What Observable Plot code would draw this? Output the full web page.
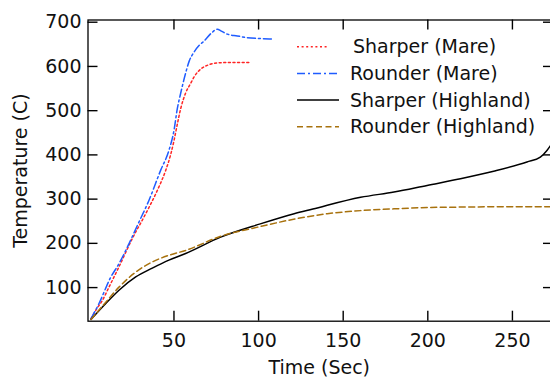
<!DOCTYPE html>
<html>
<head>
<meta charset="utf-8">
<script src="https://cdn.jsdelivr.net/npm/d3@7"></script>
<script src="https://cdn.jsdelivr.net/npm/@observablehq/plot@0.6"></script>
<style>
  html, body { margin: 0; padding: 0; background: #fff; }
  #chart { width: 550px; height: 377px; }
</style>
</head>
<body>
<div id="chart"></div>
<script>
// ---- data ----
const seriesNames = ["Sharper (Mare)", "Rounder (Mare)", "Sharper (Highland)", "Rounder (Highland)"];

const sharperMareTime = [1, 4, 7.7, 11.6, 17.5, 25.4, 33.3, 40.2, 45.1, 48, 50, 52, 54, 56.9, 59.9, 62, 65.8, 70, 75.6, 85, 95];
const sharperMareTemp = [30, 50, 71, 101, 147, 211, 267, 320, 365, 400, 432, 470, 505, 540, 562, 577, 594, 603, 608, 609, 609];

const rounderMareTime = [1, 5.7, 12.6, 17.5, 23.4, 29.3, 35.2, 42.1, 47, 50, 52, 54, 56.9, 59, 61.8, 65, 67.7, 72, 75.6, 78, 81.5, 87.4, 93.3, 101, 108];
const rounderMareTemp = [30, 64, 123, 154, 199, 248, 297, 365, 410, 455, 505, 540, 585, 612, 632, 648, 657, 675, 684, 680, 673, 669, 665, 663, 662];

const sharperHighTime = [1, 9.7, 17.5, 27.4, 37.2, 47, 56.9, 77.6, 101, 121, 134.7, 140.6, 160.3, 180, 199.6, 219.3, 238.9, 258.6, 266.5, 270.4, 272.5];
const sharperHighTemp = [28, 64, 94, 124, 144, 162, 177, 214, 244, 267, 280, 286, 304, 316, 331, 346, 363, 384, 395, 410, 421];

const rounderHighTime = [1, 9.7, 17.5, 27.4, 37.2, 47, 56.9, 77.6, 101, 120, 140.6, 160.3, 180, 199.6, 220, 250, 272.5];
const rounderHighTemp = [28, 67, 101, 135, 158, 173, 184, 216, 238, 254, 267, 274, 278, 281, 282, 283, 283];

const xTicks = [50, 100, 150, 200, 250];
const yTicks = [100, 200, 300, 400, 500, 600, 700];

// ---- styles ----
const styles = [
  {stroke: "#ff2424", dash: "2,2.6"},
  {stroke: "#1f5cff", dash: "8,3,2,3"},
  {stroke: "#000000", dash: null},
  {stroke: "#a8720e", dash: "6,3.5"}
];

const W = 550, H = 377, ML = 87.5, MR = 0, MT = 19.5, MB = 56.3;
const frameW = W - ML - MR, frameH = H - MT - MB;

const toRows = (ts, vs) => ts.map((t, i) => ({t, v: vs[i]}));
const series = [
  toRows(sharperMareTime, sharperMareTemp),
  toRows(rounderMareTime, rounderMareTemp),
  toRows(sharperHighTime, sharperHighTemp),
  toRows(rounderHighTime, rounderHighTemp)
];

const lineMarks = series.map((rows, i) =>
  Plot.line(rows, {
    x: "t", y: "v",
    stroke: styles[i].stroke,
    strokeWidth: 1.5,
    strokeDasharray: styles[i].dash,
    curve: "monotone-x",
    clip: true
  })
);

function legend() {
  const g = d3.create("svg:g").attr("text-anchor", "start");
  const x0 = 297, x1 = 339, tx = 350, y0 = 46.7, step = 26.7;
  seriesNames.forEach((name, i) => {
    const y = y0 + i * step;
    g.append("line")
      .attr("x1", x0).attr("x2", i === 0 ? 327 : x1)
      .attr("y1", y).attr("y2", y)
      .attr("stroke", styles[i].stroke)
      .attr("stroke-width", 1.5)
      .attr("stroke-dasharray", styles[i].dash);
    g.append("text")
      .attr("x", tx + (i === 0 ? 3 : 0)).attr("y", y)
      .attr("dy", "0.35em")
      .attr("text-anchor", "start")
      .attr("fill", "#111")
      .attr("font-size", 19)
      .text(name);
  });
  return g.node();
}

const tickStyle = {stroke: "#000", strokeWidth: 1.4};

const chart = Plot.plot({
  width: W,
  height: H,
  marginLeft: ML,
  marginRight: MR,
  marginTop: MT,
  marginBottom: MB,
  style: {fontFamily: "DejaVu Sans", fontSize: "19px", color: "#111", background: "#fff"},
  x: {domain: [-0.8, 272.5]},
  y: {domain: [24, 705]},
  marks: [
    Plot.frame({stroke: "#000", strokeWidth: 1.3, insetRight: -3}),
    // inward ticks on all four sides
    Plot.tickX(xTicks, {x: d => d, insetTop: frameH - 10, ...tickStyle}),
    Plot.tickX(xTicks, {x: d => d, insetBottom: frameH - 10, ...tickStyle}),
    Plot.tickY(yTicks, {y: d => d, insetRight: frameW - 10, ...tickStyle}),
    Plot.tickY(yTicks, {y: d => d, insetLeft: frameW - 7, ...tickStyle}),
    Plot.axisX({ticks: xTicks, anchor: "bottom", tickSize: 0, tickPadding: 12,
      label: "Time (Sec)", labelAnchor: "center", labelArrow: "none", labelOffset: 53, fontSize: 19}),
    Plot.axisY({ticks: yTicks, anchor: "left", tickSize: 0, tickPadding: 6.5,
      label: "Temperature (C)", labelAnchor: "center", labelArrow: "none", labelOffset: 75, fontSize: 19}),
    ...lineMarks,
    legend
  ]
});

document.getElementById("chart").appendChild(chart);
</script>
</body>
</html>
